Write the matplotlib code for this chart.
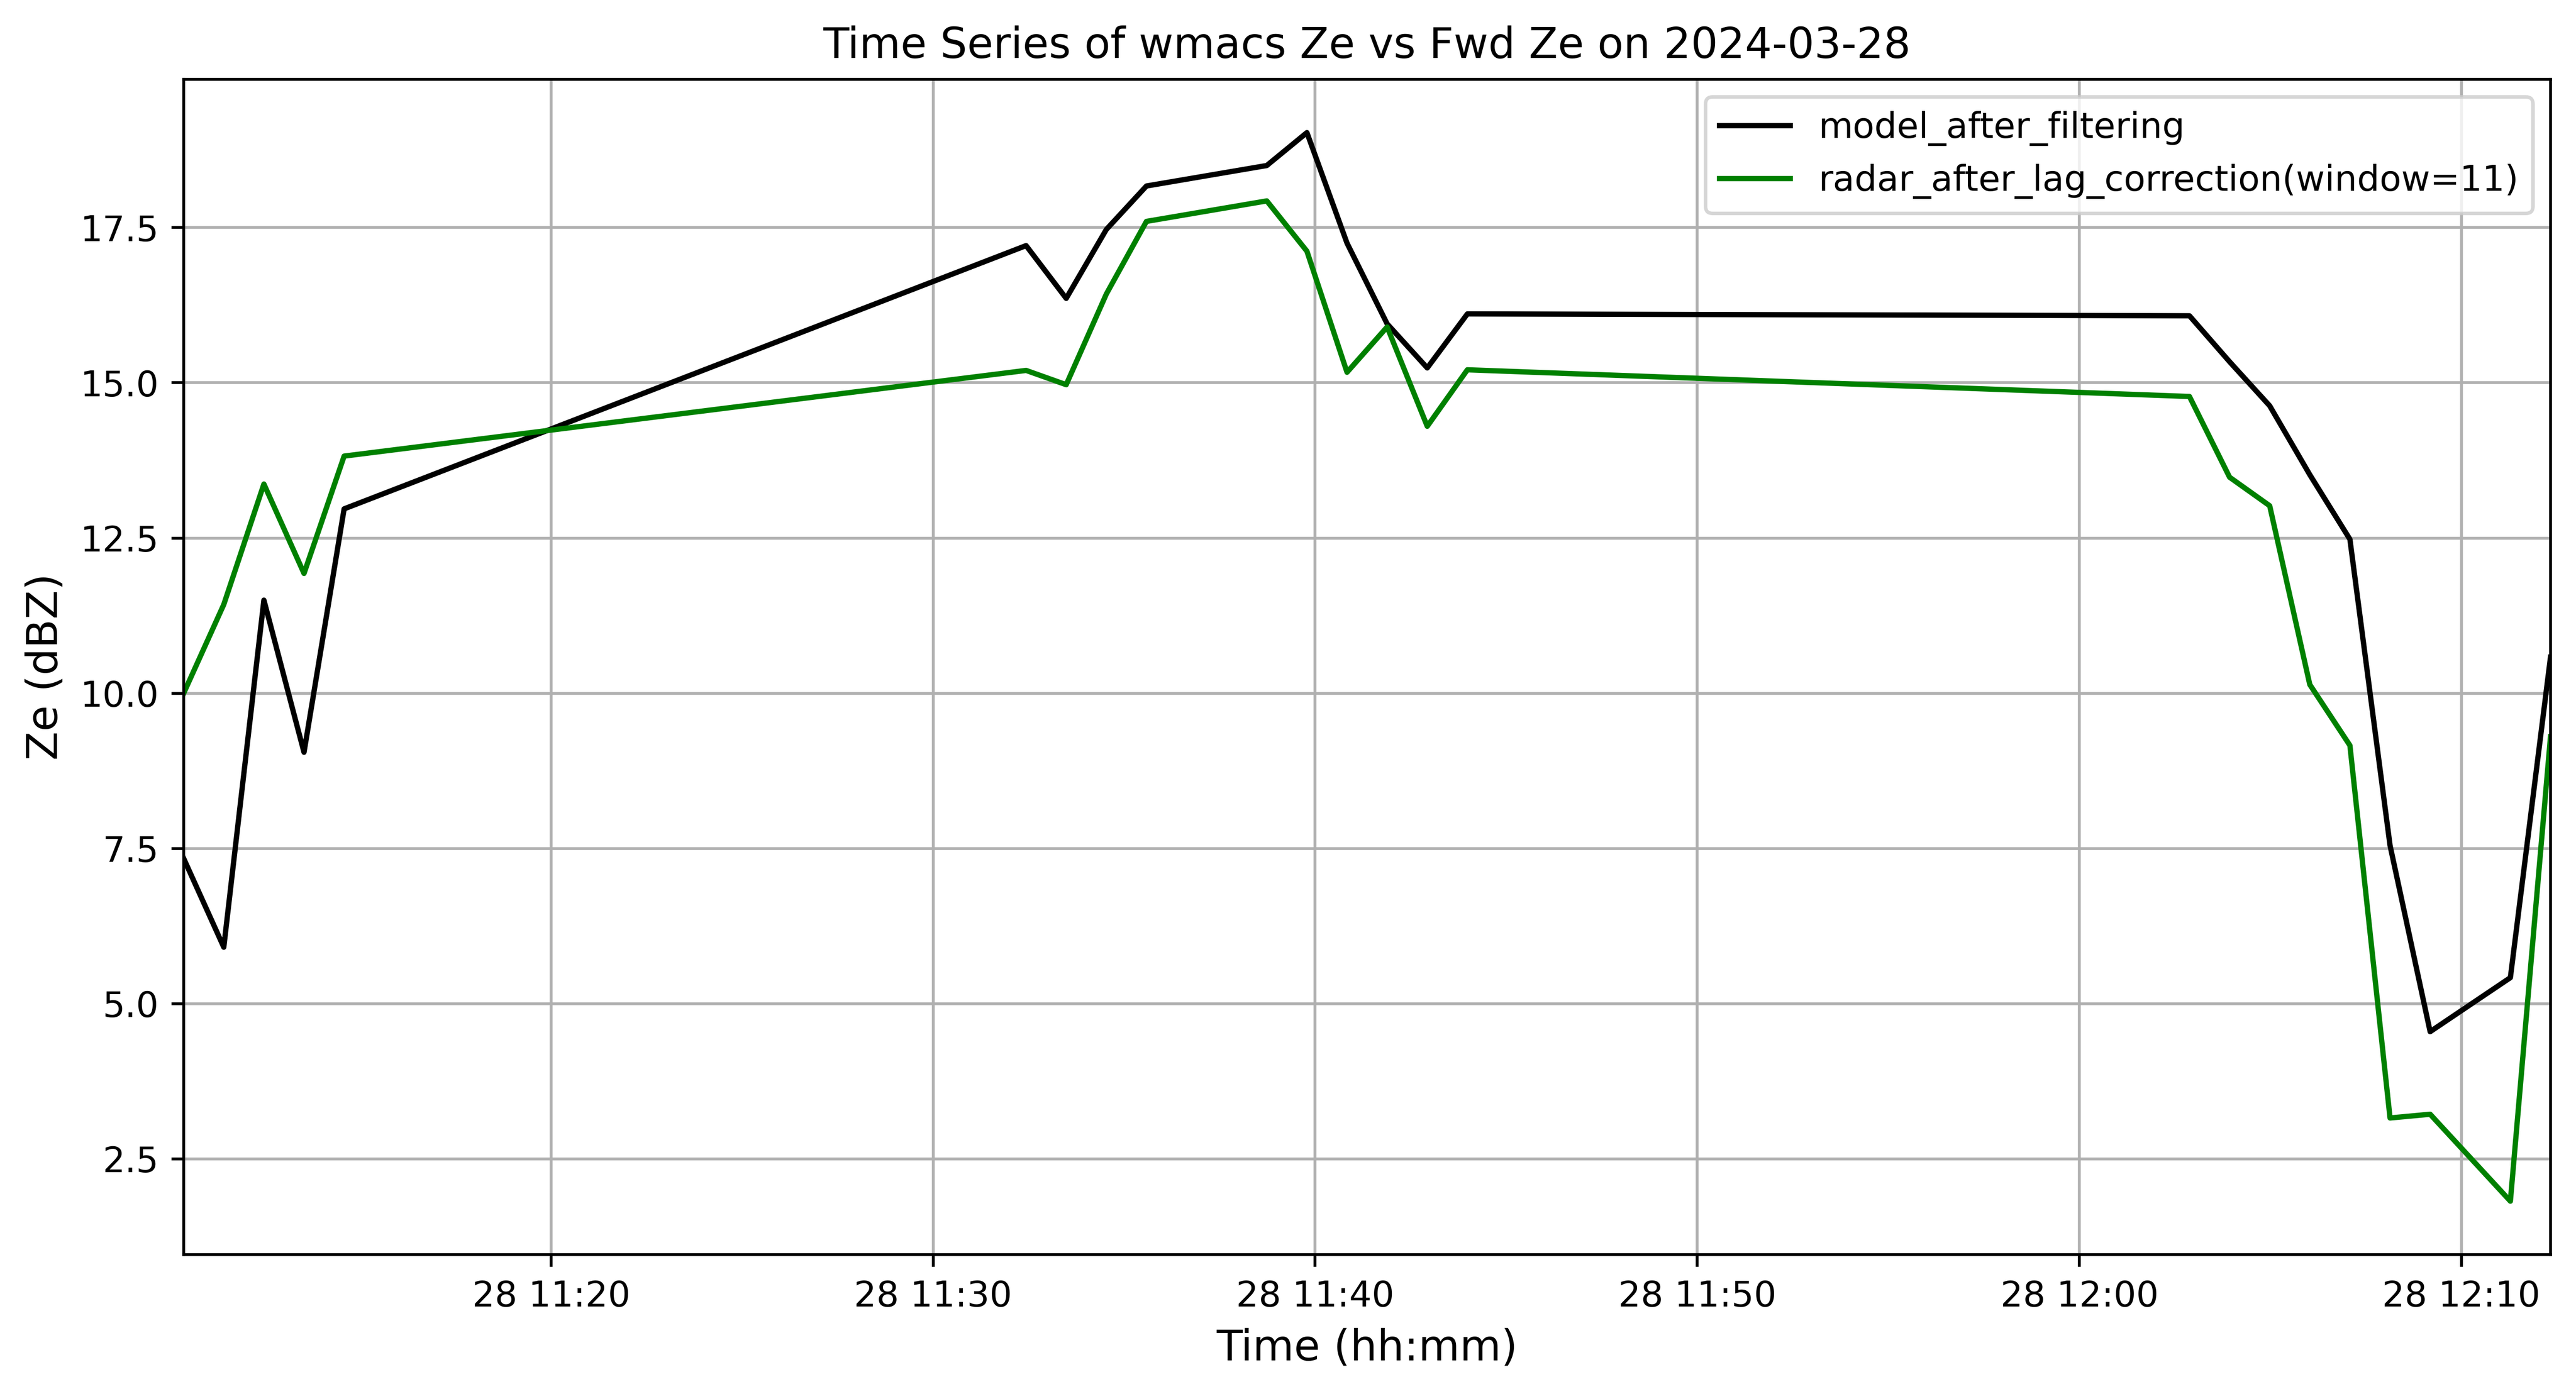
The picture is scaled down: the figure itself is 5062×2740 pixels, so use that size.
import matplotlib
matplotlib.use("Agg")
import matplotlib.pyplot as plt
import matplotlib.dates as mdates
import pandas as pd

plt.rcParams['font.family'] = ['DejaVu Sans']

day = "2024-03-28"
times = ["11:10:23", "11:11:26", "11:12:29", "11:13:32", "11:14:35",
         "11:32:26", "11:33:29", "11:34:32", "11:35:35",
         "11:38:44", "11:39:47", "11:40:50", "11:41:53", "11:42:56", "11:43:59",
         "12:02:53", "12:03:56", "12:04:59", "12:06:02", "12:07:05", "12:08:08",
         "12:09:11", "12:11:17", "12:12:20"]

model_ze = [7.34, 5.91, 11.50, 9.05, 12.97,
            17.21, 16.36, 17.47, 18.17,
            18.50, 19.03, 17.25, 15.95, 15.24, 16.11,
            16.08, 15.34, 14.63, 13.52, 12.48, 7.55,
            4.55, 5.42, 10.58]

radar_ze = [10.00, 11.43, 13.37, 11.93, 13.82,
            15.20, 14.97, 16.43, 17.60,
            17.93, 17.12, 15.17, 15.90, 14.30, 15.21,
            14.78, 13.48, 13.02, 10.14, 9.16, 3.16,
            3.22, 1.82, 9.30]

t = pd.to_datetime([day + " " + s for s in times])

fig = plt.figure(figsize=(10.124, 5.48), dpi=500)
ax = fig.add_subplot(111)
ax.plot(t, model_ze, color='black', label='model_after_filtering')
ax.plot(t, radar_ze, color='green', label='radar_after_lag_correction(window=11)')

ax.set_xlim(t[0], t[-1])
ax.xaxis.set_major_locator(mdates.MinuteLocator(byminute=[0, 10, 20, 30, 40, 50]))
ax.xaxis.set_major_formatter(mdates.DateFormatter('%d %H:%M'))
ax.set_xlabel('Time (hh:mm)', fontsize=12)
ax.set_ylabel('Ze (dBZ)', fontsize=12)
ax.set_title('Time Series of wmacs Ze vs Fwd Ze on ' + day, fontsize=12)
ax.grid(True)
ax.legend(loc='upper right')

plt.subplots_adjust(left=0.0713, right=0.9901, bottom=0.100, top=0.9432)
plt.savefig("out.png", dpi=500)
